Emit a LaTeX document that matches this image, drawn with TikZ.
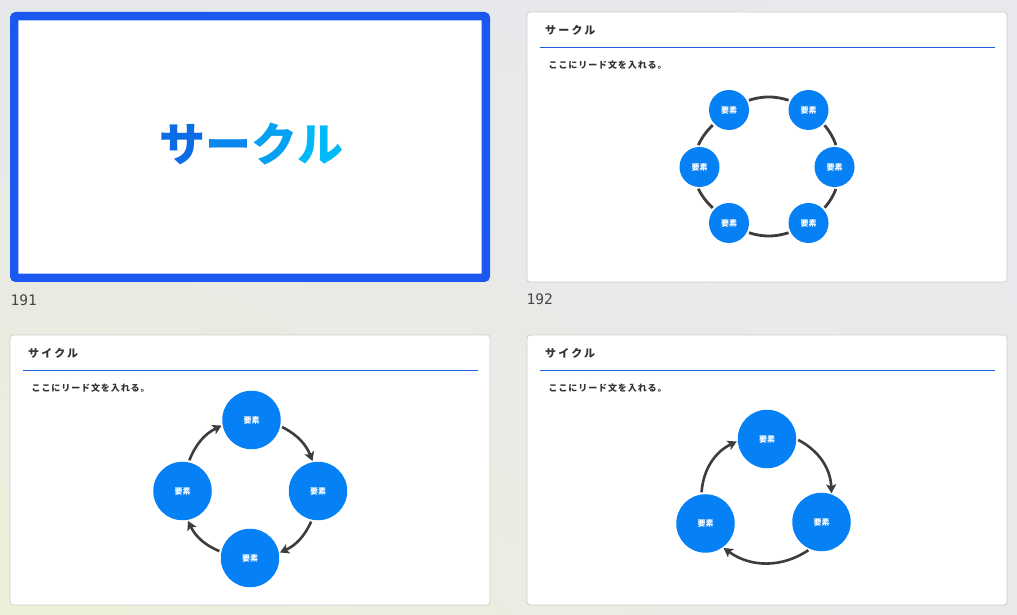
\documentclass[tikz,border=0pt]{standalone}
\usepackage{fontspec}
\usepackage{xcolor}
\usetikzlibrary{arrows.meta,shadings}
\newfontfamily\jp{Noto Sans CJK JP}
\newfontfamily\numfont{DejaVu Sans Mono}
\definecolor{slideblue}{HTML}{1A58F0}
\definecolor{ruleblue}{HTML}{1E5FE0}
\definecolor{dotblue}{HTML}{0680F5}
\definecolor{ringgray}{HTML}{3D3D3D}
\definecolor{inkgray}{HTML}{333333}
\definecolor{numgray}{HTML}{454545}
\definecolor{cardline}{HTML}{CDCDCD}
\definecolor{bgul}{HTML}{E6E7EA}
\definecolor{bgur}{HTML}{E8E9EC}
\definecolor{bgll}{HTML}{EDF0D8}
\definecolor{bglr}{HTML}{E9E9EB}
\definecolor{grada}{HTML}{0B6CE6}
\definecolor{gradb}{HTML}{0A88EE}
\definecolor{gradc}{HTML}{05A0F2}
\definecolor{gradd}{HTML}{00B9F8}
\tikzset{
  card/.style={fill=white, draw=cardline, line width=0.8pt, rounded corners=3pt},
  elem/.style={circle, fill=dotblue, text=white, inner sep=0pt,
    font=\jp\bfseries\fontsize{8}{8}\selectfont},
  small elem/.style={elem, minimum size=40pt},
  big elem/.style={elem, minimum size=58.5pt},
  ring/.style={draw=ringgray, line width=2.8pt, shorten <=2pt, shorten >=2pt},
  cycle arrow/.style={draw=ringgray, line width=2.6pt,
    -{Stealth[length=9pt,width=10pt,inset=2pt]}, shorten >=1pt, shorten <=2pt},
  heading/.style={anchor=west, text=inkgray, inner sep=0pt,
    font=\jp\bfseries\fontsize{11}{11}\selectfont\addfontfeatures{LetterSpace=20}},
  lead/.style={anchor=west, text=inkgray, inner sep=0pt,
    font=\jp\bfseries\fontsize{9}{9}\selectfont\addfontfeatures{LetterSpace=10}},
  numlabel/.style={anchor=west, text=numgray, inner sep=0pt,
    font=\numfont\fontsize{14.5}{14.5}\selectfont}
}
\begin{document}
\begin{tikzpicture}[x=1pt, y=1pt]
\useasboundingbox (0,0) rectangle (1017,615);
\shade[upper left=bgul, upper right=bgur, lower left=bgll, lower right=bglr]
  (0,0) rectangle (1017,615);

% cover slide
\draw[draw=slideblue, line width=8.3pt, fill=white, rounded corners=2pt]
  (14.15,337.15) rectangle (485.85,598.85);
\node (cover) at (251,471) {\jp\bfseries\fontsize{46}{46}\selectfont\addfontfeatures{LetterSpace=5}%
  \textcolor{grada}{サ}\textcolor{gradb}{ー}\textcolor{gradc}{ク}\textcolor{gradd}{ル}};
\node[numlabel] (n191) at (10.5,315) {191};
\node[numlabel] (n192) at (526.5,316) {192};

% content slides
\foreach \x/\y/\ttl/\k in {527/333/サークル/a, 10/10/サイクル/b, 527/10/サイクル/c}{
  \draw[card] (\x,\y) rectangle ++(480,270);
  \node[heading] (ttl\k) at (\x+18,\y+251.5) {\ttl};
  \draw[ruleblue, line width=0.9pt] (\x+13,\y+234.5) -- (\x+468,\y+234.5);
  \node[lead] (lead\k) at (\x+21.5,\y+217) {ここにリード文を入れる。};
}

% circle of six
\node[small elem] (s1) at (729,505) {要素};
\node[small elem] (s2) at (808.5,505) {要素};
\node[small elem] (s3) at (834.5,448) {要素};
\node[small elem] (s4) at (808.5,392) {要素};
\node[small elem] (s5) at (729,392) {要素};
\node[small elem] (s6) at (699.5,448) {要素};
\draw[ring] (s1.27) to[bend left=17] (s2.153);
\draw[ring] (s2.-43) to[bend left=10] (s3.84);
\draw[ring] (s3.-84) to[bend left=10] (s4.43);
\draw[ring] (s4.-153) to[bend left=17] (s5.-27);
\draw[ring] (s5.137) to[bend left=10] (s6.-96);
\draw[ring] (s6.96) to[bend left=10] (s1.-137);

% cycle of four
\node[big elem] (q1) at (251.5,195) {要素};
\node[big elem] (q2) at (318,124) {要素};
\node[big elem] (q3) at (250,57) {要素};
\node[big elem] (q4) at (182.5,124) {要素};
\draw[cycle arrow] (q1.-12) to[bend left=21] (q2.100);
\draw[cycle arrow] (q2.-102) to[bend left=21] (q3.10);
\draw[cycle arrow] (q3.168) to[bend left=21] (q4.-80);
\draw[cycle arrow] (q4.78) to[bend left=21] (q1.190);

% cycle of three
\node[big elem] (t1) at (767,176) {要素};
\node[big elem] (t2) at (821.5,93) {要素};
\node[big elem] (t3) at (705.5,91.5) {要素};
\draw[cycle arrow] (t1.0) to[bend left=30] (t2.70);
\draw[cycle arrow] (t2.-113) to[bend left=35] (t3.-54);
\draw[cycle arrow] (t3.98) to[bend left=30] (t1.184);
\end{tikzpicture}
\end{document}
